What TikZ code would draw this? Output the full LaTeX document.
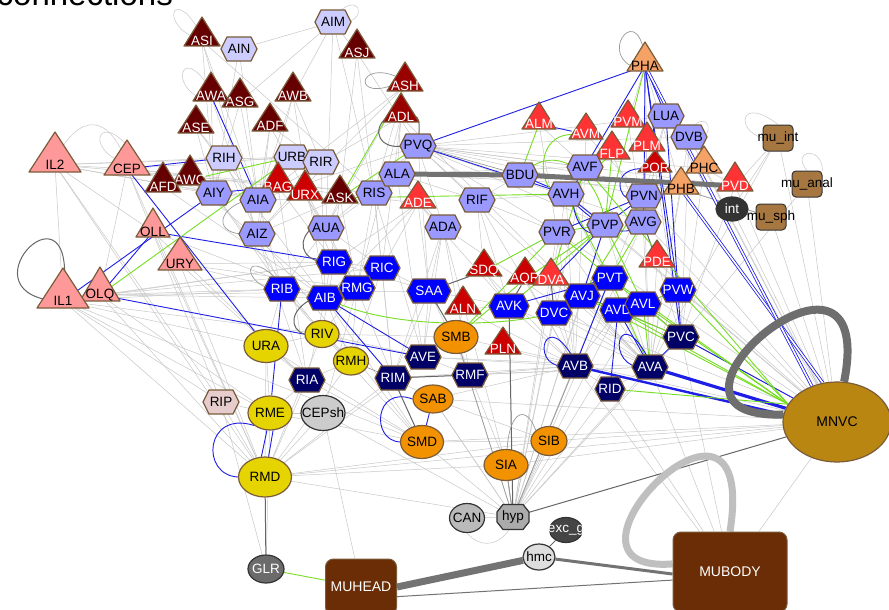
\documentclass[tikz,border=0pt]{standalone}
\usepackage{fontspec}
\setmainfont{Liberation Sans}
\usetikzlibrary{shapes.geometric}
\pgfdeclarelayer{bg}
\pgfsetlayers{bg,main}
\definecolor{maroon}{HTML}{660000}
\definecolor{dred}{HTML}{990000}
\definecolor{mred}{HTML}{CC0000}
\definecolor{lred}{HTML}{FF3333}
\definecolor{pinkt}{HTML}{FF9999}
\definecolor{oranget}{HTML}{F5A266}
\definecolor{lhex}{HTML}{CCCCFF}
\definecolor{mhex}{HTML}{9999FF}
\definecolor{bhex}{HTML}{0000FF}
\definecolor{nhex}{HTML}{000066}
\definecolor{phex}{HTML}{E6CCCC}
\definecolor{brd}{HTML}{7A5C3A}
\definecolor{yel}{HTML}{E6D400}
\definecolor{ora}{HTML}{F29200}
\definecolor{mubr}{HTML}{6B2D06}
\definecolor{mus}{HTML}{A67741}
\definecolor{gold}{HTML}{BA8612}
\definecolor{elg}{HTML}{C8C8C8}
\definecolor{emg}{HTML}{9A9A9A}
\definecolor{edg}{HTML}{666666}
\definecolor{eblue}{HTML}{1E1EE6}
\definecolor{egreen}{HTML}{77DD22}
\tikzset{
 lab/.style={inner sep=0pt, font=\fontsize{13.5}{15}\selectfont},
 tribord/.style={draw=brd, line width=1.2pt, line join=round},
 hexbord/.style={draw=brd, line width=1.2pt, line join=round},
 ell/.style={ellipse, draw=brd, line width=1.2pt, inner sep=0pt, font=\fontsize{13.5}{15}\selectfont},
 gell/.style={ellipse, draw=black!80, line width=1.2pt, inner sep=0pt, font=\fontsize{13.5}{15}\selectfont},
 murect/.style={rectangle, rounded corners=4pt, draw=black!80, line width=1pt, fill=mus, minimum width=30pt, minimum height=26pt, inner sep=0pt, font=\fontsize{13.5}{15}\selectfont},
 bigrect/.style={rectangle, rounded corners=8pt, draw=brd, line width=1pt, fill=mubr, text=white, inner sep=0pt, font=\fontsize{14}{16}\selectfont},
 e/.style={draw=elg, line width=0.5pt},
 em/.style={draw=emg, line width=0.7pt},
 ed/.style={draw=edg, line width=1pt},
 eb/.style={draw=eblue, line width=0.9pt},
 eg/.style={draw=egreen, line width=0.9pt},
}
\newcommand\trin[7]{%
  \filldraw[tribord, fill=#6] (#2,#3) -- ++(-#5,#4) -- ++(2*#5,0) -- cycle;
  \node[lab, text=#7] (#1) at (#2,#3+0.82*#4) {#1};}
\newcommand\hexn[6][18]{%
  \filldraw[hexbord, fill=#5, shift={(#3,#4)}] (-#1,0) -- (-#1+6,-12) -- (#1-6,-12) -- (#1,0) -- (#1-6,12) -- (-#1+6,12) -- cycle;
  \node[lab, text=#6] (#2) at (#3,#4) {#2};}
\begin{document}
\begin{tikzpicture}[x=1pt,y=-1pt]
\useasboundingbox (0,0) rectangle (889,610);
\node[anchor=base east, inner sep=0pt, font=\fontsize{33}{36}\selectfont] (title) at (173,6) {connections};
% ---- triangles and hexagons, top
\trin{ASI}{202}{17}{29}{18}{maroon}{white}
\hexn{AIN}{239}{49}{lhex}{black}
\hexn{AIM}{333}{22}{lhex}{black}
\trin{ASJ}{357}{29}{29}{18}{maroon}{white}
\trin{ASG}{240}{78}{29}{18}{maroon}{white}
\trin{AWA}{211}{72}{29}{18}{maroon}{white}
\trin{AWB}{293}{72}{29}{18}{maroon}{white}
\trin{ASE}{196}{105}{28}{18}{maroon}{white}
\trin{ADF}{270}{103}{28}{18}{maroon}{white}
\trin{ASH}{405}{62}{29}{18}{dred}{white}
\trin{ADL}{401}{93}{29}{18}{dred}{white}
\trin{IL2}{55}{132}{40}{26}{pinkt}{black}
\trin{CEP}{127}{140}{35}{23}{pinkt}{black}
\hexn{RIH}{224}{158}{lhex}{black}
\trin{AWC}{190}{155}{30}{18}{maroon}{white}
\trin{AFD}{163}{162}{30}{18}{maroon}{white}
\hexn{URB}{292}{157}{lhex}{black}
\hexn{RIR}{321}{162}{lhex}{black}
\trin{BAG}{278}{162}{30}{18}{mred}{white}
\trin{URX}{305}{170}{30}{18}{mred}{white}
\trin{ASK}{340}{175}{28}{18}{maroon}{white}
\hexn{AIY}{214}{193}{mhex}{black}
\hexn{AIA}{258}{200}{mhex}{black}
\hexn{AIZ}{257}{234}{mhex}{black}
\hexn{RIS}{374}{193}{mhex}{black}
\hexn{PVQ}{418}{146}{mhex}{black}
\hexn{ALA}{397}{174}{mhex}{black}
\trin{ADE}{418}{181}{27}{18}{lred}{white}
\hexn{RIF}{477}{200}{mhex}{black}
\hexn{ADA}{443}{227}{mhex}{black}
\hexn{AUA}{326}{228}{mhex}{black}
\trin{OLL}{153}{208}{29}{17}{pinkt}{black}
\trin{URY}{180}{237}{33}{22}{pinkt}{black}
\trin{OLQ}{100}{267}{34}{20}{pinkt}{black}
\trin{IL1}{63}{268}{40}{26}{pinkt}{black}
% ---- right top
\trin{PHA}{645}{42}{29}{18}{oranget}{black}
\trin{ALM}{539}{102}{27}{17}{lred}{white}
\trin{AVM}{586}{113}{26}{17}{lred}{white}
\trin{PVM}{628}{100}{27}{17}{lred}{white}
\hexn{LUA}{666}{116}{mhex}{black}
\hexn{DVB}{689}{137}{mhex}{black}
\trin{FLP}{612}{131}{28}{18}{lred}{white}
\trin{POR}{655}{150}{22}{17}{mred}{white}
\trin{PLM}{647}{122}{29}{18}{lred}{white}
\trin{PHC}{704}{146}{27}{18}{oranget}{black}
\trin{PVD}{735}{162}{29}{18}{lred}{white}
\trin{PHB}{681}{167}{27}{18}{oranget}{black}
\hexn{BDU}{520}{175}{mhex}{black}
\hexn{AVF}{585}{167}{mhex}{black}
\hexn{AVH}{566}{194}{mhex}{black}
\hexn{PVN}{644}{196}{mhex}{black}
\hexn{PVR}{557}{232}{mhex}{black}
\hexn{AVG}{643}{222}{mhex}{black}
\hexn{PVP}{605}{225}{mhex}{black}
\trin{PDE}{657}{240}{27}{18}{lred}{white}
% ---- middle
\hexn{RIG}{334}{262}{bhex}{white}
\hexn{RIC}{382}{268}{bhex}{white}
\hexn{RIB}{282}{289}{bhex}{white}
\hexn{RMG}{357}{288}{bhex}{white}
\hexn{AIB}{325}{298}{bhex}{white}
\hexn[22]{SAA}{429}{291}{bhex}{white}
\trin{SDQ}{484}{249}{27}{18}{mred}{white}
\trin{AQR}{525}{257}{27}{18}{mred}{white}
\trin{DVA}{551}{258}{27}{18}{lred}{white}
\trin{ALN}{463}{286}{28}{18}{mred}{white}
\hexn[20]{AVK}{509}{306}{bhex}{white}
\hexn{DVC}{554}{313}{bhex}{white}
\trin{PLN}{503}{327}{27}{18}{mred}{white}
\hexn{PVT}{610}{278}{bhex}{white}
\hexn{AVJ}{582}{296}{bhex}{white}
\hexn{PVW}{678}{290}{bhex}{white}
\hexn{AVD}{618}{310}{bhex}{white}
\hexn{AVL}{643}{304}{bhex}{white}
\hexn{PVC}{681}{337}{nhex}{white}
\hexn{AVA}{650}{367}{nhex}{white}
\hexn{AVB}{575}{366}{nhex}{white}
\hexn[15]{RID}{610}{389}{nhex}{white}
\hexn{AVE}{423}{357}{nhex}{white}
\hexn{RIA}{307}{380}{nhex}{white}
\hexn{RIM}{393}{378}{nhex}{white}
\hexn{RMF}{470}{375}{nhex}{white}
\hexn{RIP}{221}{402}{phex}{black}
% ---- ellipses
\node[ell, fill=yel, minimum width=44pt, minimum height=33pt] (URA) at (266,346) {\makebox[0pt]{URA}};
\node[ell, fill=yel, minimum width=34pt, minimum height=27pt] (RIV) at (322,334) {\makebox[0pt]{RIV}};
\node[ell, fill=yel, minimum width=35pt, minimum height=28pt] (RMH) at (351,361) {\makebox[0pt]{RMH}};
\node[ell, fill=yel, minimum width=44pt, minimum height=34pt] (RME) at (270,413) {\makebox[0pt]{RME}};
\node[gell, fill=black!20, minimum width=44pt, minimum height=35pt] (CEPsh) at (323,413) {\makebox[0pt]{CEPsh}};
\node[ell, fill=yel, minimum width=53pt, minimum height=40pt] (RMD) at (265,477) {\makebox[0pt]{RMD}};
\node[ell, fill=ora, minimum width=44pt, minimum height=33pt] (SMB) at (456,337) {\makebox[0pt]{SMB}};
\node[ell, fill=ora, minimum width=40pt, minimum height=28pt] (SAB) at (433,399) {\makebox[0pt]{SAB}};
\node[ell, fill=ora, minimum width=43pt, minimum height=33pt] (SMD) at (422,442) {\makebox[0pt]{SMD}};
\node[ell, fill=ora, minimum width=36pt, minimum height=29pt] (SIB) at (549,441) {\makebox[0pt]{SIB}};
\node[ell, fill=ora, minimum width=44pt, minimum height=31pt] (SIA) at (506,465) {\makebox[0pt]{SIA}};
\node[gell, fill=black!27, minimum width=35pt, minimum height=29pt] (CAN) at (467,518) {\makebox[0pt]{CAN}};
\filldraw[draw=black!80, line width=1.2pt, fill=black!33, shift={(513,517)}] (-16,-5) -- (-10,-12.5) -- (10,-12.5) -- (16,-5) -- (16,5) -- (10,12.5) -- (-10,12.5) -- (-16,5) -- cycle;
\node[lab] (hyp) at (513,517) {hyp};
\node[gell, fill=black!73, minimum width=33pt, minimum height=25pt, text=white] (excg) at (566,530) {\makebox[0pt]{exc\_g}};
\node[gell, fill=black!13, minimum width=32pt, minimum height=26pt] (hmc) at (539,557) {\makebox[0pt]{hmc}};
\node[gell, fill=black!58, minimum width=36pt, minimum height=28pt, text=white] (GLR) at (266,569) {\makebox[0pt]{GLR}};
\node[gell, fill=black!80, minimum width=32pt, minimum height=24pt, text=white] (int) at (732,209) {\makebox[0pt]{int}};
\node[ell, fill=gold, minimum width=108pt, minimum height=80pt, font=\fontsize{14}{16}\selectfont] (MNVC) at (837,422) {\makebox[0pt]{MNVC}};
\node[bigrect, minimum width=71pt, minimum height=56pt] (MUHEAD) at (361,587) {\makebox[0pt]{MUHEAD}};
\node[bigrect, minimum width=114pt, minimum height=80pt] (MUBODY) at (730,572) {\makebox[0pt]{MUBODY}};
\node[murect] (muint) at (778,138) {\makebox[0pt]{mu\_int}};
\node[murect] (muanal) at (807,184) {\makebox[0pt]{mu\_anal}};
\node[murect] (musph) at (771,217) {\makebox[0pt]{mu\_sph}};
% ---- connectors
\begin{pgfonlayer}{bg}
\fill[white] (0,0) rectangle (889,610);
\foreach \a/\b in {IL2/CEP, IL2/RIH, IL2/URB, IL2/AIA, IL2/RIS, IL2/IL1, IL2/RIP, IL2/RMD, IL2/AIY, IL2/OLL,
 CEP/AIA, CEP/URB, CEP/ADE, CEP/RIS, CEP/RIP, CEP/RMD, CEP/AIY, CEP/OLQ,
 IL1/RIB, IL1/RIV, IL1/RMD, IL1/RIP, IL1/URA, IL1/RIG, IL1/RME, IL1/SMD,
 OLQ/RIB, OLQ/RIC, OLQ/SAA, OLQ/RME, OLQ/RMD, OLQ/RIG, OLQ/AIB,
 OLL/AIB, OLL/RMD, OLL/RIA, URY/RIA, URY/RMD, URY/RIG, URY/RMG, URY/RIB,
 ASI/AIY, ASI/AIZ, ASI/AIA, ASI/RIS, ASI/AIN, AIN/AIY, AIN/AIA, AIN/AIM,
 AIM/AWB, AIM/ASJ, AIM/RIS, AIM/ASG, AIM/AUA,
 AWA/AIY, AWA/AIZ, ASG/AIA, ASG/AIY, AWB/AIA, AWB/RIR, AWB/AIB, AWB/AIZ, ASE/AIY, ASE/AIA, ASE/AIB, ADF/AIA, ADF/RIR, ADF/AIZ, ADF/AUA,
 ASJ/PVQ, ASJ/ASK, ASJ/RIS, ASH/AIA, ASH/RIS, ASH/AUA, ASH/AIZ, ADL/ALA, ADL/AIA, ADL/RMG, ADL/AVA, ADL/RIC,
 ASK/AIA, ASK/AIB, ASK/RMG, ASK/AUA, ASK/AIZ,
 URB/RIR, URB/AIA, RIR/AIZ, RIR/AIB, BAG/RIG, BAG/RIA, URX/RIG, URX/AUA, URX/RMG,
 AFD/AIY, AFD/AIB, AWC/AIY, AWC/AIA, AWC/AIB, RIH/AIY, RIH/RIR, RIH/AIZ, AIY/RIB, AIY/RIV, AIA/RIB, AIZ/RIB, AIZ/RIA, AIZ/SMD,
 PVQ/AIA, PVQ/RIS, PVQ/AUA, PVQ/RIF, PVQ/AVF, PVQ/PVN, PVQ/PVP, PVQ/AVG, PVQ/ADA, PVQ/SAA, PVQ/LUA, PVQ/DVB, PVQ/PVD, PVQ/PVR, PVQ/AVA, PVQ/PHC, PVQ/PHB,
 ALA/RIF, ALA/ADA, ALA/AVF, ALA/RIS, ALA/AVE, ALA/PHB,
 RIS/AUA, RIS/RIC, RIS/RMG, RIS/AVE, RIS/RIM,
 ADE/ADA, ADE/SAA, ADE/AVK, ADE/RIC, ADE/RIG, ADE/AIB,
 RIF/AVH, RIF/PVR, RIF/AVK, RIF/AVB, RIF/SDQ, RIF/BDU,
 ADA/RIM, ADA/AVE, ADA/RMF, ADA/SAA, ADA/SIA, ADA/AVA,
 AUA/RIC, AUA/RMG, AUA/RIB, RIG/RMG, RIG/RIC, RIG/RIV, RIG/SAA,
 RIC/AIB, RIC/SAA, RIC/RMH, RIC/RIM, RMG/RMH, RMG/RIM, RMG/RIV, RMG/CEPsh,
 RIB/AIB, RIB/URA, RIB/RIV, RIB/RMH, AIB/RMH, AIB/RIA, AIB/SMD,
 SAA/RMF, SAA/RIM, SAA/AVK, SAA/AVE, SDQ/AVK, ALN/AVK, ALN/SMB,
 URA/RME, URA/RMD, URA/RIV, URA/RIA, URA/SMD, RIV/RMH, RIV/RMD, RIV/SMD, RIV/AVE, RIV/SMB,
 RMH/RMD, RMH/RIA, AVE/RMF, AVE/AVA, AVE/AVB, AVE/SMB, RIA/RME, RIA/RMD, RIA/SMD,
 RIM/SAB, RIM/AVA, RIM/AVB, RIM/RMD, RMF/AVB, RMF/SMB, RMF/SIA, RMF/AVA,
 RIP/RME, RIP/RMD, RIP/GLR, RME/CEPsh, RME/GLR, RME/SMD, CEPsh/RMD, CEPsh/hyp, CEPsh/MUHEAD,
 RMD/SIA, RMD/SIB, RMD/MNVC, RMD/SMB, RMD/hyp, SAB/SIB, SAB/MNVC, SAB/AVB, SAB/hyp,
 SMD/SIB, SMD/MNVC, SMD/hyp, SIB/hyp, SIA/hyp, SIB/MNVC, SIA/MNVC, CAN/hyp,
 hyp/AVB, hyp/AVA, hyp/RID, hyp/PVC, hyp/AVJ, hyp/DVC, hyp/PVT, hyp/AVL, hyp/AVD, hyp/PVR, hyp/PVP, hyp/AVG, hyp/PVN, hyp/AVH, hyp/AVF, hyp/SMB, hyp/SAB,
 MNVC/PDE, MNVC/AVG, MNVC/PVN, MNVC/PVD, MNVC/int, MNVC/musph, MNVC/LUA, MNVC/DVB, MNVC/PHC, MNVC/SMB, MNVC/muanal, MNVC/muint, MNVC/AVH, MNVC/PVP, MNVC/DVC, MNVC/PVR,
 MUBODY/AVA, MUBODY/AVB, MUBODY/PVC, MUBODY/MNVC, MUBODY/RID,
 int/muint, int/musph, PVD/muint, musph/PHB, muanal/PVC, muint/AVA,
 PHA/PHB, PHA/PVM, PHA/PLM, LUA/PVN, LUA/AVG, DVB/PVC, DVB/AVA, PHC/PVC, PHB/AVA, PVD/PVC, PHC/PVD,
 ALM/AVF, ALM/PVR, AVM/AVF, AVM/PVN, PVM/AVG, FLP/AVG, PLM/PVN, PLM/AVG, POR/AVG, POR/PVC,
 AVF/AVB, AVH/AVB, AVH/AVA, PVN/AVA, PVP/AVA, AVG/AVA, PVR/AVB, PVR/AVA,
 SDQ/AVB, AQR/AVB, DVA/AVA, DVA/AVB, ALN/AVB, PLN/AVB,
 AVK/AVA, AVK/AVB, DVC/AVA, DVC/AVB, AVJ/AVA, AVD/AVB, PVT/AVB, PVW/AVA, RID/AVB, RID/AVA, PDE/AVA, PDE/PVC}
 \draw[e] (\a) -- (\b);
\foreach \a/\b in {SMB/hyp, SIA/hyp, AVB/hyp, RMH/RIM, PVQ/BDU, PHB/musph, AVL/PVC, AVD/PVC, PVC/MNVC, PVW/AVL}
 \draw[em] (\a) -- (\b);
\foreach \a/\b in {SAA/SMB, SAA/SDQ, AQR/AVK, DVA/DVC, RIM/RMF, RIM/SMD, AVK/hyp, RMD/GLR, hyp/MNVC, PVN/AVG, AVG/PDE, AVJ/AVD, hmc/excg}
 \draw[ed] (\a) -- (\b);
\foreach \a/\b in {CEP/RIH, CEP/URA, AWA/AIA, AIY/BAG, IL1/AIY, OLQ/OLL, OLQ/AVE, OLL/RIG, RIB/RME, AIB/RIM, AIB/AVE,
 PVQ/AVH, PVQ/PHA, BDU/AVH, ALM/AVM, PHA/AVF, PHA/LUA, PHA/PVN, PHA/PVW, PHA/PVC, LUA/PVW,
 AVB/PVT, AVD/AVA, PVW/PVC, AVA/PVC, SAB/SMD, PVC/MNVC, AVH/PVP, PVN/PVP, DVA/PVP, PVR/PVN, AVJ/PVP, AVK/PVT, AVD/RID}
 \draw[eb] (\a) -- (\b);
\draw[eb] (RME.-80) -- (RMD.80);
\draw[eb] (RME.-100) -- (RMD.100);
\draw[eb, double=white, double distance=1.6pt, line width=0.8pt] (PHB) -- (MNVC.110);
\draw[eb, double=white, double distance=1.6pt, line width=0.8pt] (PHA) -- (MNVC.125);
\draw[draw=eblue, line width=3.2pt] (AVA) -- (MNVC.165);
\draw[draw=eblue, line width=2.4pt] (AVB) -- (MNVC.172);
\foreach \a/\b in {OLQ/URB, AWC/URB, ASK/ASH, ASK/PVQ, ASK/AVH, ALM/BDU, SMB/AQR, SMB/PVR, PHA/PVP, FLP/AVH, FLP/PVP,
 PVR/PVP, PVT/PVR, DVA/AVF, AQR/PVP, SDQ/PVR, PVT/PVC, PVT/AVA, AVL/AVA, AVJ/PVC, AVL/PVW, AVG/PVT, PVN/AVJ, AVH/PVT,
 DVC/PVT, AVK/PVP, PVP/AVL, GLR/MUHEAD}
 \draw[eg] (\a) -- (\b);
\foreach \a in {AVD, PVT, AVJ, RID, AVL, PVW, AVF}
 \draw[eg] (\a) -- (MNVC.160);
\draw[eg] (AIB) .. controls (400,330) and (500,325) .. (DVC);
\draw[eg] (AVM) .. controls (535,135) and (540,185) .. (AVH);
\draw[eg] (BDU) .. controls (565,140) and (600,185) .. (PVP);
\draw[eb] (AVF) .. controls (560,205) and (585,245) .. (PVP);
\draw[eb] (POR) .. controls (610,170) and (620,200) .. (PVN);
\draw[eb] (AVH) .. controls (590,220) and (620,240) .. (AVG);
% thick connectors
\draw[draw=black!55, line width=5pt] (ALA) -- (BDU);
\draw[draw=black!55, line width=5pt] (BDU) -- (PVD);
\draw[draw=black!55, line width=7pt] (MUHEAD.east) -- (hmc);
\draw[draw=black!55, line width=3pt] (hmc) -- (MUBODY.-178);
\draw[draw=black!55, line width=1pt] (MUHEAD.-15) -- (MUBODY.-172);
\draw[draw=black!57, line width=8pt] (MNVC.172) .. controls (620,420) and (880,200) .. (MNVC.80);
\draw[draw=black!25, line width=7pt] (MUBODY.172) .. controls (530,575) and (760,340) .. (MUBODY.north);
% curved links and loops
\draw[ed] (IL1.west) .. controls (-40,290) and (80,170) .. (IL1.north);
\draw[em] (PHA.west) .. controls (600,50) and (640,0) .. (PHA.north);
\draw[ed] (ADL.west) .. controls (370,130) and (380,150) .. (PVQ.west);
\draw[ed] (ADL.east) .. controls (420,115) and (420,130) .. (PVQ.north);
\draw[em] (ASH.west) .. controls (350,100) and (360,55) .. (ASH.north);
\draw[em] (AIA.west) .. controls (215,210) and (215,235) .. (AIZ.west);
\draw[ed] (AUA.west) .. controls (298,240) and (300,258) .. (RIG.west);
\draw[ed] (AIB.west) .. controls (288,310) and (290,330) .. (RIV.west);
\draw[em] (RIB.west) .. controls (240,280) and (245,245) .. (RIB.north);
\draw[eb] (RMD.west) .. controls (200,475) and (205,410) .. (RME.south west);
\draw[eb] (SMD.west) .. controls (370,440) and (375,385) .. (SAB.west);
\draw[eb] (AVB.west) .. controls (530,365) and (545,305) .. (AVB.north);
\draw[eb] (AVA.west) .. controls (605,360) and (620,300) .. (AVA.north);
\draw[e] (ASI.north west) .. controls (160,20) and (175,-15) .. (ASI.north);
\draw[e] (AWA.west) .. controls (170,80) and (185,45) .. (AWA.north);
\draw[e] (AIM.east) .. controls (368,20) and (360,-12) .. (AIM.north);
\draw[e] (CEP.north) .. controls (80,150) and (100,100) .. (CEP.north east);
\draw[e] (IL2.north) .. controls (80,110) and (110,115) .. (CEP.north);
\draw[e] (muint.west) .. controls (735,130) and (740,95) .. (muint.north);
\draw[e] (muanal.north) .. controls (790,150) and (822,145) .. (muanal.north east);
\draw[e] (DVB.east) .. controls (715,130) and (705,108) .. (DVB.north);
\draw[e] (CAN.south) .. controls (480,548) and (500,548) .. (hyp.south);
\draw[em] (hyp.north) .. controls (495,430) and (520,390) .. (SIB.north west);
\end{pgfonlayer}
\end{tikzpicture}
\end{document}
